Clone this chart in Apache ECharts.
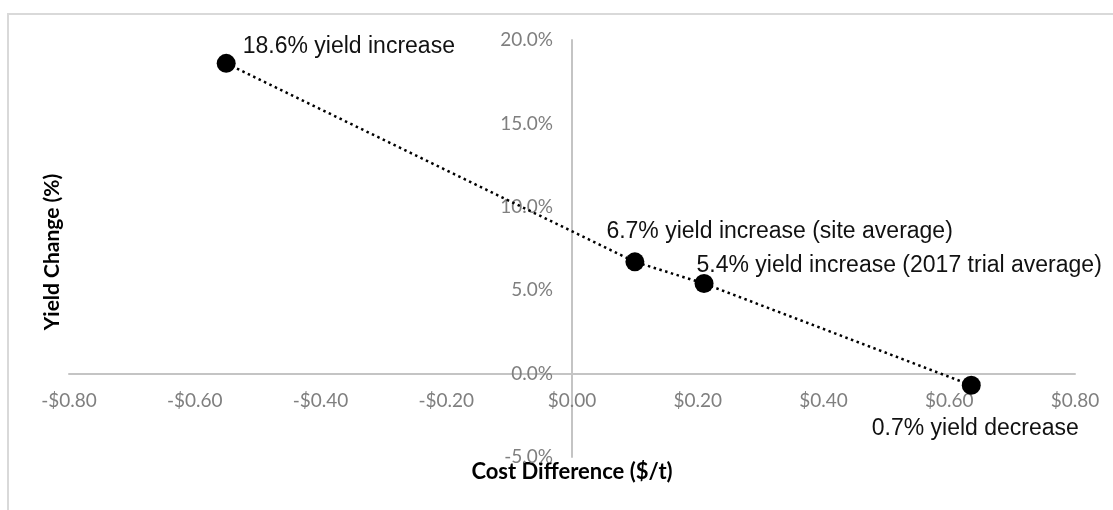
<!DOCTYPE html>
<html>
<head>
<meta charset="utf-8">
<title>Yield change vs cost difference</title>
<script src="https://cdn.jsdelivr.net/npm/echarts@6/dist/echarts.min.js"></script>
<style>
  html, body { margin: 0; padding: 0; background: #fff; }
  #chart { width: 1113px; height: 510px; }
</style>
</head>
<body>
<div id="chart"></div>
<script>
// values
const costDiff = [-0.55, 0.10, 0.21, 0.635];
const yieldChange = [18.6, 6.7, 5.4, -0.7];
const pointLabels = [
  "18.6% yield increase",
  "6.7% yield increase (site average)",
  "5.4% yield increase (2017 trial average)",
  "0.7% yield decrease",
];
const xTicks = { min: -0.8, max: 0.8, step: 0.2 };
const yTicks = { min: -5, max: 20, step: 5 };

// where each label sits relative to its point (style only)
const labelOffsets = [[2, -17], [-43, -30], [-22, -18], [-114, 43]];

const grid = { left: 69, right: 38, top: 40, bottom: 53 };
const plotW = 1113 - grid.left - grid.right;
const plotH = 510 - grid.top - grid.bottom;
// axes cross at zero, like the original: shift them in from the grid edges
const yAxisShift = plotW * (0 - xTicks.min) / (xTicks.max - xTicks.min);
const xAxisShift = plotH * (0 - yTicks.min) / (yTicks.max - yTicks.min);

const axisGray = "#c4c4c4";
const tickText = { color: "#7f7f7f", fontFamily: "Lato", fontSize: 19 };

const chart = echarts.init(document.getElementById("chart"));

const options = {
  animation: false,
  backgroundColor: "#fff",
  grid: { ...grid, outerBoundsMode: "none" },
  xAxis: {
    type: "value",
    min: xTicks.min,
    max: xTicks.max,
    interval: xTicks.step,
    offset: -xAxisShift,
    axisLine: { onZero: false, lineStyle: { color: axisGray, width: 2 } },
    axisTick: { show: false },
    splitLine: { show: false },
    axisLabel: {
      ...tickText,
      margin: 18,
      formatter: (v) => (v < 0 ? "-" : "") + "$" + Math.abs(v).toFixed(2),
    },
  },
  yAxis: {
    type: "value",
    min: yTicks.min,
    max: yTicks.max,
    interval: yTicks.step,
    offset: -yAxisShift,
    axisLine: { show: true, onZero: false, lineStyle: { color: axisGray, width: 2 } },
    axisTick: { show: false },
    splitLine: { show: false },
    axisLabel: {
      ...tickText,
      margin: 19,
      formatter: (v) => v.toFixed(1) + "%",
    },
  },
  graphic: [
    {
      type: "rect",
      shape: { x: 8, y: 14, width: 1200, height: 600 },
      style: { fill: "none", stroke: "#d9d9d9", lineWidth: 2 },
      silent: true,
    },
    {
      type: "text",
      x: 52,
      y: 252,
      rotation: Math.PI / 2,
      style: {
        text: "Yield Change (%)",
        font: "bold 21px Lato",
        fill: "#000",
        align: "center",
        verticalAlign: "middle",
      },
    },
    {
      type: "text",
      x: 572,
      y: 472,
      style: {
        text: "Cost Difference ($/t)",
        font: "bold 22px Lato",
        fill: "#000",
        align: "center",
        verticalAlign: "middle",
      },
    },
  ],
  series: [
    {
      type: "line",
      data: costDiff.map((x, i) => ({
        value: [x, yieldChange[i]],
        label: { offset: labelOffsets[i] },
      })),
      symbol: "circle",
      symbolSize: 19,
      itemStyle: { color: "#000" },
      lineStyle: { color: "#000", width: 2.5, type: [2.5, 3.5] },
      label: {
        show: true,
        position: "right",
        distance: 5,
        color: "#111",
        fontFamily: "Liberation Sans",
        fontSize: 23,
        formatter: (p) => pointLabels[p.dataIndex],
      },
      z: 3,
    },
  ],
};

chart.setOption(options);
</script>
</body>
</html>
